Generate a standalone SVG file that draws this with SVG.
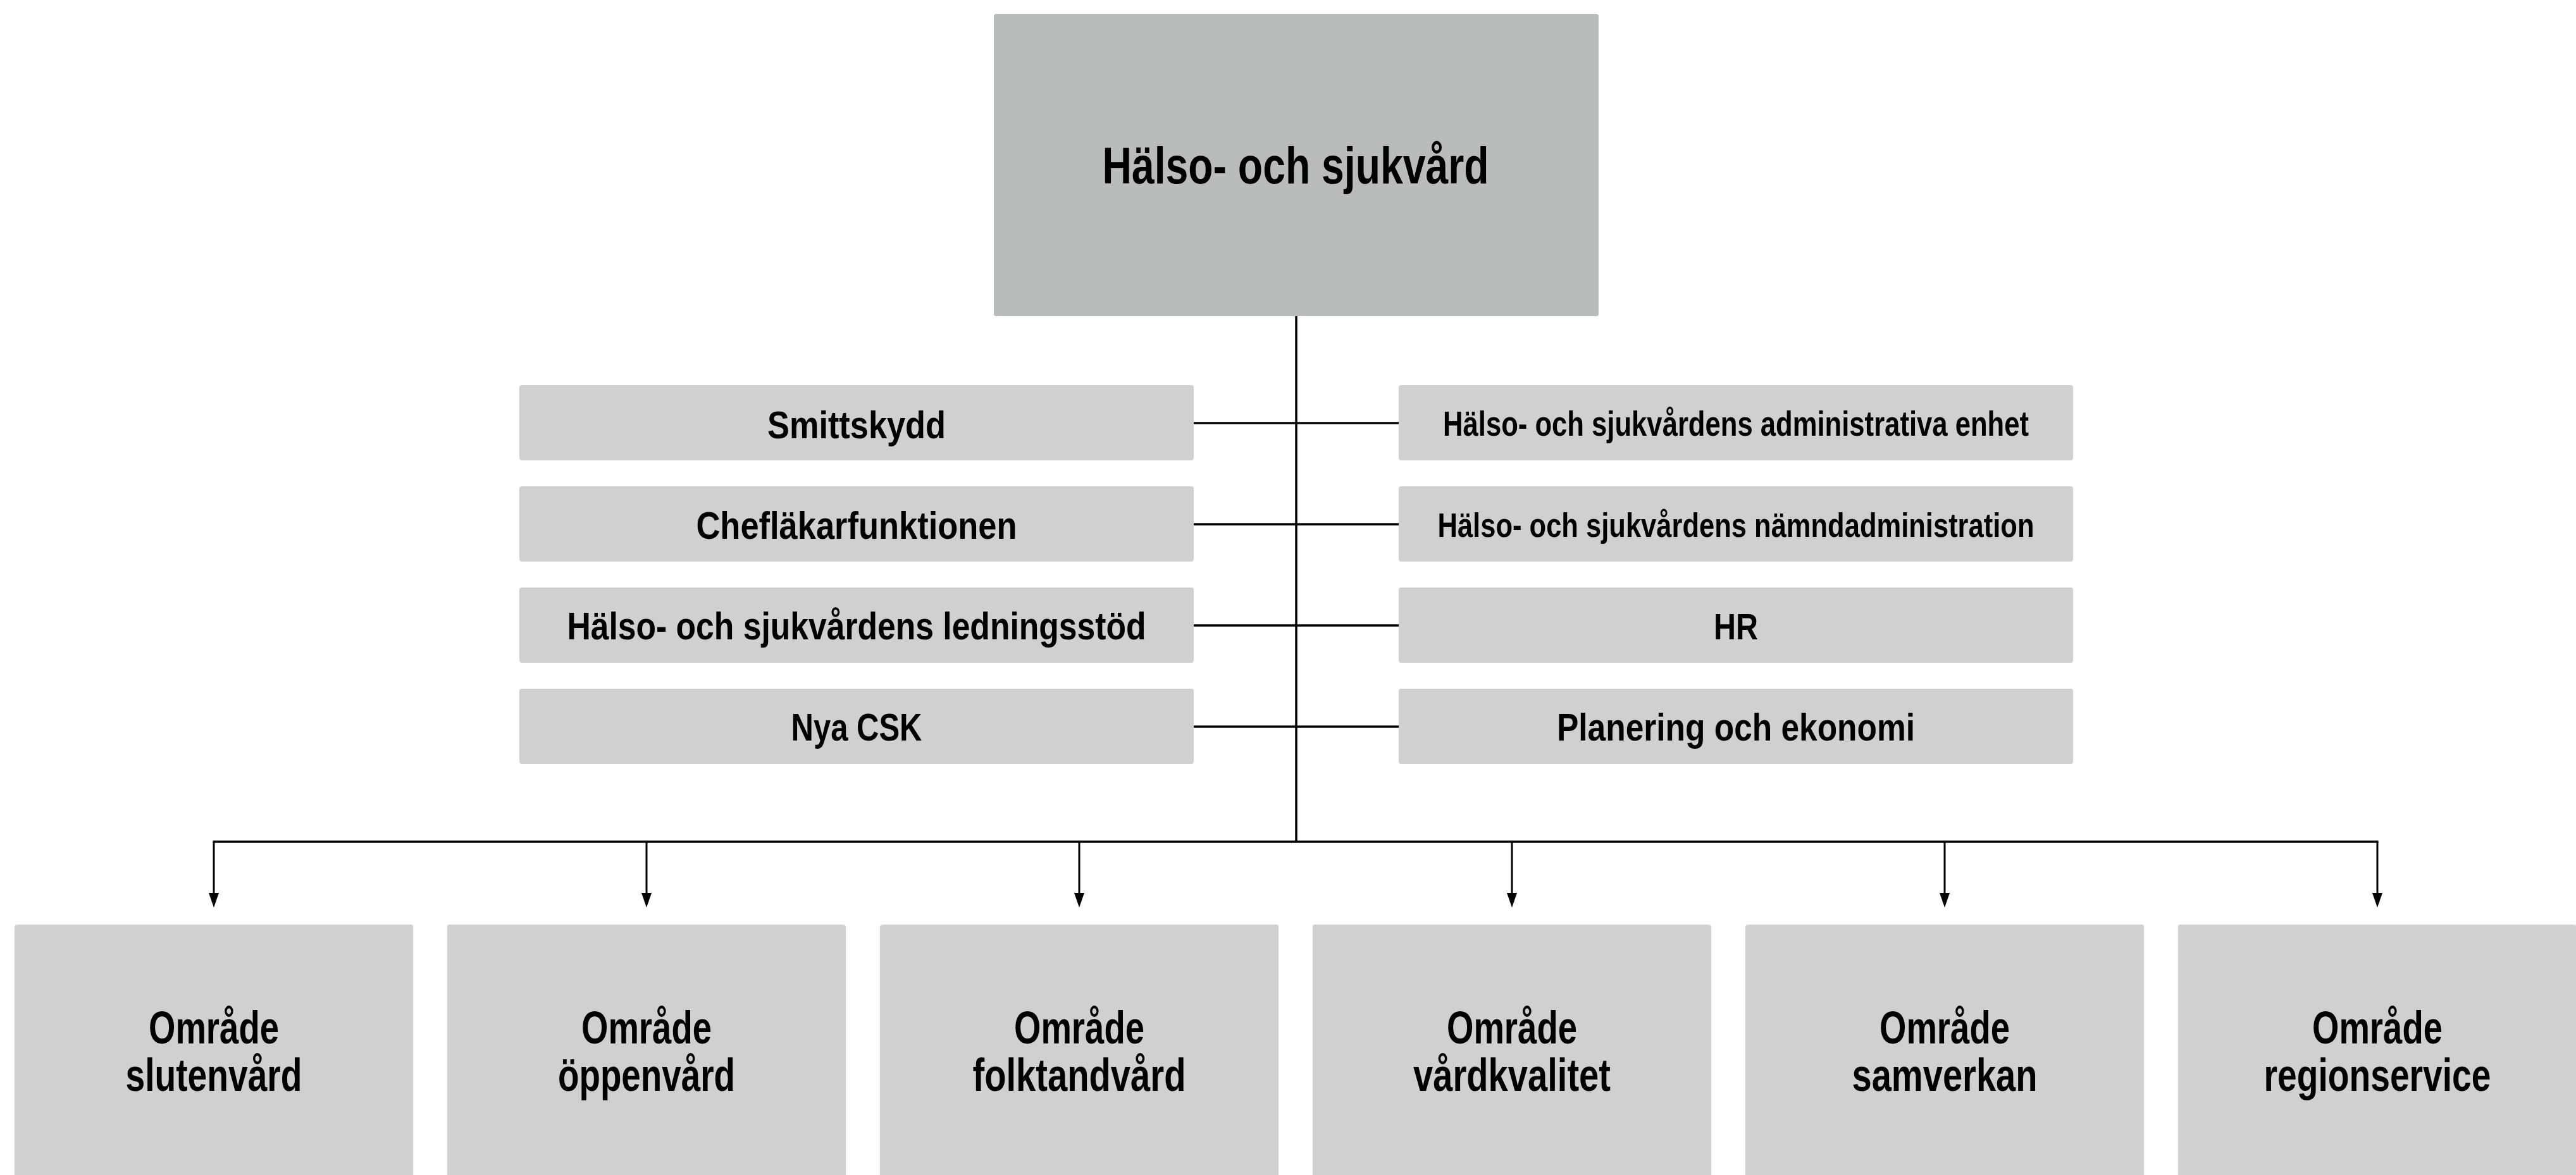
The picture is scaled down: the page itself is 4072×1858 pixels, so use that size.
<svg xmlns="http://www.w3.org/2000/svg" width="4072" height="1858" viewBox="0 0 4072 1858">
<style>
.box{fill:#d0d0d0}
.top{fill:#babcbb}
.t{font-family:"Liberation Sans",Arial,sans-serif;font-weight:bold;fill:#000;text-anchor:middle}
.ln{stroke:#000;stroke-width:3.5;fill:none}
.ar{stroke:#000;stroke-width:3;fill:none}
</style>
<defs>
<marker id="arr" markerUnits="userSpaceOnUse" markerWidth="20" markerHeight="26" viewBox="0 0 16 23" refX="8" refY="23" orient="auto-start-reverse">
<path d="M0,0 L16,0 L8,23 Z" fill="#000" transform="rotate(0)"/>
</marker>
</defs>
<rect width="4072" height="1858" fill="#fff"/>
<g id="connectors">
<line class="ln" x1="2049" y1="500" x2="2049" y2="1331"/>
<line class="ln" x1="1887" y1="669" x2="2211" y2="669"/>
<line class="ln" x1="1887" y1="829" x2="2211" y2="829"/>
<line class="ln" x1="1887" y1="989" x2="2211" y2="989"/>
<line class="ln" x1="1887" y1="1149" x2="2211" y2="1149"/>
<line class="ln" x1="336.5" y1="1331" x2="3759.5" y2="1331"/>
<path class="ar" d="M338,1331 V1413"/>
<path class="ar" d="M1022,1331 V1413"/>
<path class="ar" d="M1706,1331 V1413"/>
<path class="ar" d="M2390,1331 V1413"/>
<path class="ar" d="M3074,1331 V1413"/>
<path class="ar" d="M3758,1331 V1413"/>
<g fill="#000">
<path d="M330,1412 L346,1412 L338,1435 Z"/>
<path d="M1014,1412 L1030,1412 L1022,1435 Z"/>
<path d="M1698,1412 L1714,1412 L1706,1435 Z"/>
<path d="M2382,1412 L2398,1412 L2390,1435 Z"/>
<path d="M3066,1412 L3082,1412 L3074,1435 Z"/>
<path d="M3750,1412 L3766,1412 L3758,1435 Z"/>
</g>
</g>
<g id="n-top">
<rect class="top" x="1571" y="22" width="956" height="478" rx="4"/>
<text class="t" x="2048" y="290" font-size="81" textLength="611" lengthAdjust="spacingAndGlyphs">Hälso- och sjukvård</text>
</g>
<g id="n-smittskydd">
<rect class="box" x="821" y="609" width="1066" height="119" rx="4"/>
<text class="t" x="1354" y="693" font-size="62" textLength="282" lengthAdjust="spacingAndGlyphs">Smittskydd</text>
</g>
<g id="n-chef">
<rect class="box" x="821" y="769" width="1066" height="119" rx="4"/>
<text class="t" x="1354" y="852" font-size="62" textLength="507" lengthAdjust="spacingAndGlyphs">Chefläkarfunktionen</text>
</g>
<g id="n-ledning">
<rect class="box" x="821" y="929" width="1066" height="119" rx="4"/>
<text class="t" x="1354" y="1011" font-size="62" textLength="915" lengthAdjust="spacingAndGlyphs">Hälso- och sjukvårdens ledningsstöd</text>
</g>
<g id="n-csk">
<rect class="box" x="821" y="1089" width="1066" height="119" rx="4"/>
<text class="t" x="1354" y="1171" font-size="62" textLength="207" lengthAdjust="spacingAndGlyphs">Nya CSK</text>
</g>
<g id="n-admin">
<rect class="box" x="2211" y="609" width="1066" height="119" rx="4"/>
<text class="t" x="2744" y="689" font-size="56" textLength="926" lengthAdjust="spacingAndGlyphs">Hälso- och sjukvårdens administrativa enhet</text>
</g>
<g id="n-namnd">
<rect class="box" x="2211" y="769" width="1066" height="119" rx="4"/>
<text class="t" x="2744" y="849" font-size="54" textLength="943" lengthAdjust="spacingAndGlyphs">Hälso- och sjukvårdens nämndadministration</text>
</g>
<g id="n-hr">
<rect class="box" x="2211" y="929" width="1066" height="119" rx="4"/>
<text class="t" x="2744" y="1011" font-size="58" textLength="70" lengthAdjust="spacingAndGlyphs">HR</text>
</g>
<g id="n-plan">
<rect class="box" x="2211" y="1089" width="1066" height="119" rx="4"/>
<text class="t" x="2744" y="1171" font-size="62" textLength="566" lengthAdjust="spacingAndGlyphs">Planering och ekonomi</text>
</g>
<g id="n-sluten">
<rect class="box" x="23" y="1462" width="630" height="420" rx="4"/>
<text class="t" x="338" y="1650" font-size="72" textLength="206" lengthAdjust="spacingAndGlyphs">Område</text>
<text class="t" x="338" y="1725" font-size="72" textLength="279" lengthAdjust="spacingAndGlyphs">slutenvård</text>
</g>
<g id="n-oppen">
<rect class="box" x="707" y="1462" width="630" height="420" rx="4"/>
<text class="t" x="1022" y="1650" font-size="72" textLength="206" lengthAdjust="spacingAndGlyphs">Område</text>
<text class="t" x="1022" y="1725" font-size="72" textLength="280" lengthAdjust="spacingAndGlyphs">öppenvård</text>
</g>
<g id="n-folk">
<rect class="box" x="1391" y="1462" width="630" height="420" rx="4"/>
<text class="t" x="1706" y="1650" font-size="72" textLength="206" lengthAdjust="spacingAndGlyphs">Område</text>
<text class="t" x="1706" y="1725" font-size="72" textLength="337" lengthAdjust="spacingAndGlyphs">folktandvård</text>
</g>
<g id="n-kval">
<rect class="box" x="2075" y="1462" width="630" height="420" rx="4"/>
<text class="t" x="2390" y="1650" font-size="72" textLength="206" lengthAdjust="spacingAndGlyphs">Område</text>
<text class="t" x="2390" y="1725" font-size="72" textLength="312" lengthAdjust="spacingAndGlyphs">vårdkvalitet</text>
</g>
<g id="n-samv">
<rect class="box" x="2759" y="1462" width="630" height="420" rx="4"/>
<text class="t" x="3074" y="1650" font-size="72" textLength="206" lengthAdjust="spacingAndGlyphs">Område</text>
<text class="t" x="3074" y="1725" font-size="72" textLength="293" lengthAdjust="spacingAndGlyphs">samverkan</text>
</g>
<g id="n-region">
<rect class="box" x="3443" y="1462" width="630" height="420" rx="4"/>
<text class="t" x="3758" y="1650" font-size="72" textLength="206" lengthAdjust="spacingAndGlyphs">Område</text>
<text class="t" x="3758" y="1725" font-size="72" textLength="359" lengthAdjust="spacingAndGlyphs">regionservice</text>
</g>
</svg>
